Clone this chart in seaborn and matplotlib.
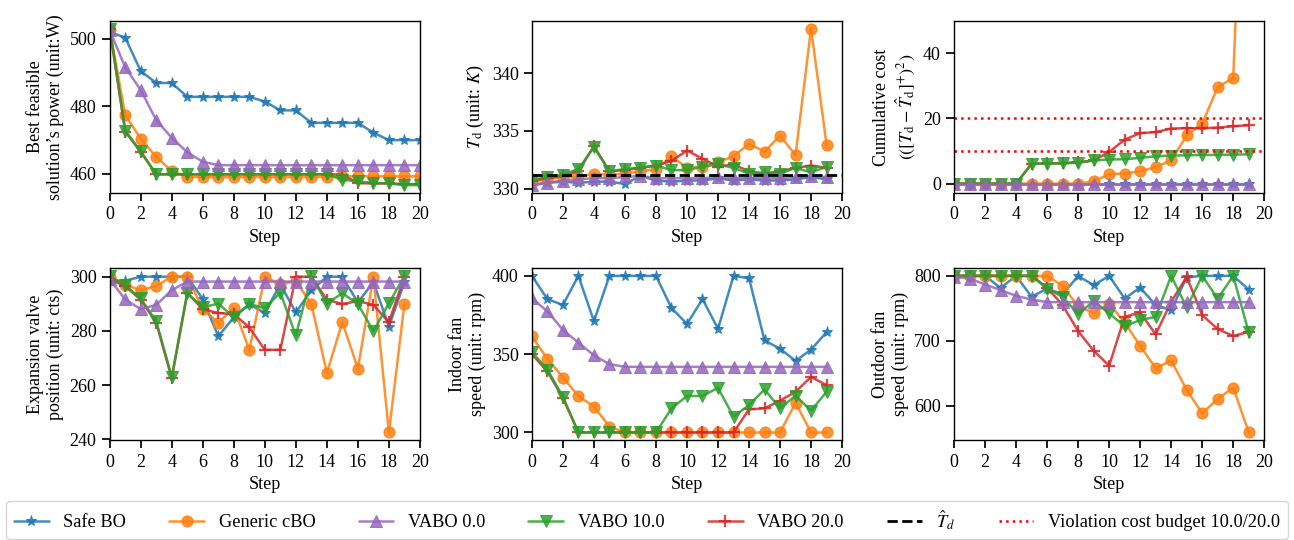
import numpy as np
import pandas as pd
import matplotlib
matplotlib.use("Agg")
import matplotlib.pyplot as plt
import seaborn as sns

# ---------------- data ----------------
methods = ["Safe BO", "Generic cBO", "VABO 0.0", "VABO 10.0", "VABO 20.0"]
colors = ["#1f77b4", "#ff7f0e", "#9467bd", "#2ca02c", "#d62728"]
markers = ["*", "o", "^", "v", "+"]
draw_order = [0, 1, 4, 3, 2]  # drawing order (legend keeps the method order)

steps21 = list(range(21))
steps20 = list(range(20))

# best feasible power (21 points)
power_safe = [502.0, 500.3, 490.4, 486.9, 486.9, 482.8, 482.8, 482.8, 482.8, 482.8, 481.4,
              478.8, 478.8, 475.1, 475.1, 475.1, 475.1, 472.2, 470.0, 470.0, 470.0]
power_generic = [502.7, 477.4, 470.4, 465.0, 460.9, 459.1, 459.1, 459.1, 459.1, 459.1, 459.1,
                 459.1, 459.1, 459.1, 459.1, 459.3, 459.3, 459.3, 459.3, 459.3, 459.3]
power_vabo0 = [502.5, 491.5, 484.8, 475.9, 470.7, 466.4, 463.6, 462.6, 462.6, 462.6, 462.6,
               462.6, 462.6, 462.6, 462.6, 462.6, 462.6, 462.6, 462.6, 462.6, 462.6]
power_vabo10 = [503.0, 472.8, 466.7, 459.9, 459.9, 459.9, 459.9, 459.9, 459.9, 459.9, 459.9,
                459.9, 459.9, 459.9, 459.9, 458.3, 457.8, 457.3, 457.2, 456.7, 456.7]
power_vabo20 = [503.0, 472.5, 466.5, 459.9, 459.9, 459.9, 459.9, 459.9, 459.9, 459.9, 459.9,
                459.9, 459.9, 459.9, 459.9, 459.8, 457.3, 457.2, 457.2, 457.0, 457.0]

# T_d (20 points)
td_safe = [330.3, 330.5, 330.6, 330.5, 330.6, 330.6, 330.4, 331.1, 330.7, 330.6,
           330.7, 330.7, 330.9, 330.7, 330.8, 330.7, 330.7, 330.8, 331.0, 330.8]
td_generic = [330.6, 330.8, 331.0, 331.0, 331.3, 331.2, 331.3, 331.5, 331.7, 332.8,
              331.8, 331.9, 332.3, 332.8, 333.9, 333.2, 334.6, 332.9, 343.9, 333.8]
td_vabo0 = [330.3, 330.5, 330.7, 330.8, 330.9, 330.9, 331.0, 331.1, 330.9, 330.9,
            330.9, 330.9, 331.0, 330.9, 330.9, 330.9, 330.9, 331.0, 331.1, 331.0]
td_vabo10 = [330.75, 331.0, 331.2, 331.7, 333.6, 331.5, 331.7, 331.8, 332.0, 331.6,
             331.6, 331.9, 332.1, 331.8, 331.3, 331.4, 331.3, 331.8, 331.4, 331.9]
td_vabo20 = [330.7, 330.9, 331.1, 331.5, 333.7, 331.5, 331.6, 331.8, 332.0, 332.4,
             333.3, 332.6, 331.9, 332.1, 331.5, 331.3, 331.5, 331.8, 332.0, 331.8]
td_hat = 331.15

# cumulative cost (20 points)
cost_safe = [0.0] * 20
cost_generic = [0.0, 0.0, 0.0, 0.0, 0.0, 0.0, 0.0, 0.0, 0.0, 0.7,
                2.9, 3.1, 3.8, 5.1, 7.1, 14.8, 18.4, 29.6, 32.4, 150.0]
cost_vabo0 = [0.0] * 20
cost_vabo10 = [0.0, 0.0, 0.0, 0.0, 0.0, 6.1, 6.1, 6.2, 6.4, 7.1,
               7.4, 7.5, 7.9, 8.4, 8.6, 8.7, 8.8, 8.8, 8.9, 9.0]
cost_vabo20 = [0.0, 0.0, 0.0, 0.0, 0.0, 6.1, 6.2, 6.3, 6.6, 7.1,
               9.7, 13.5, 15.5, 15.8, 16.9, 17.0, 17.0, 17.2, 17.6, 17.9]
budgets = [10.0, 20.0]

# expansion valve position (20 points)
ev_safe = [298.4, 298.5, 300, 300, 300, 300, 291.7, 278.0, 285.0, 289.9,
           286.6, 297.2, 286.8, 295.0, 300, 300, 290.5, 298.0, 281.6, 298.0]
ev_generic = [300, 297.0, 295.0, 296.6, 300, 300, 288.0, 283.0, 288.4, 273.0,
              300, 297.2, 298.4, 289.9, 264.5, 283.2, 266.1, 300, 242.5, 289.9]
ev_vabo0 = [299.0, 291.6, 288.0, 289.6, 295.0, 298.2, 298.2, 298.2, 298.2, 298.2,
            298.2, 298.2, 298.2, 298.2, 298.2, 298.2, 298.2, 298.2, 298.2, 298.2]
ev_vabo10 = [300.3, 296.8, 292.0, 283.5, 263.0, 293.9, 288.7, 290.1, 285.0, 289.9,
             288.4, 294.1, 278.3, 300.3, 290.1, 293.9, 289.9, 279.9, 290.2, 300.3]
ev_vabo20 = [299.0, 296.5, 291.5, 283.0, 262.5, 294.0, 288.0, 286.6, 286.2, 281.3,
             273.0, 273.0, 300, 300, 291.5, 289.9, 291.0, 289.6, 283.2, 300]

# indoor fan speed (20 points)
in_safe = [400, 385.2, 381.4, 400, 371.0, 400, 400, 400, 400, 379.5,
           369.3, 385.2, 366.2, 400, 398.5, 358.8, 353.5, 345.7, 352.9, 364.1]
in_generic = [361.3, 347.1, 335.1, 323.3, 316.5, 303.8, 300, 300, 300, 300,
              300, 300, 300, 300, 300, 300, 300, 319.0, 300, 300]
in_vabo0 = [385.6, 377.4, 365.5, 357.3, 349.3, 343.6, 341.9, 341.9, 341.9, 341.9,
            341.9, 341.9, 341.9, 341.9, 341.9, 341.9, 341.9, 341.9, 341.9, 341.9]
in_vabo10 = [351.4, 340.2, 322.8, 300, 300, 300, 300, 300, 300, 315.4,
             323.3, 323.3, 328.5, 310.1, 317.5, 327.5, 315.4, 323.5, 314.0, 326.0]
in_vabo20 = [350.0, 339.0, 322.0, 300, 300, 300, 300, 300, 300, 300,
             300, 300, 300, 300, 314.8, 315.4, 320.3, 326.0, 335.5, 330.2]

# outdoor fan speed (20 points)
out_safe = [800, 800, 800, 781.5, 800, 767.7, 780.5, 771.3, 800, 785.6,
            800, 765.1, 782.0, 754.9, 747.2, 798.0, 800, 800, 800, 779.0]
out_generic = [800, 800, 800, 800, 800, 800, 800, 784.6, 753.0, 743.0,
               757.4, 728.0, 692.3, 657.4, 669.7, 624.1, 588.2, 610.3, 627.7, 558.5]
out_vabo0 = [798.5, 795.9, 786.7, 778.0, 769.2, 763.6, 759.5, 759.5, 759.5, 759.5,
             759.5, 759.5, 759.5, 759.5, 759.5, 759.5, 759.5, 759.5, 759.5, 759.5]
out_vabo10 = [800, 800, 800, 800, 800, 800, 780.5, 767.7, 740.5, 761.5,
              742.0, 722.6, 731.8, 736.9, 800, 751.3, 800, 765.0, 800, 712.8]
out_vabo20 = [800, 800, 800, 800, 800, 800, 782.0, 754.9, 714.9, 684.6,
              661.5, 736.9, 743.6, 709.7, 760.0, 798.5, 739.5, 718.0, 707.2, 713.8]

panels = [
    (steps21, [power_safe, power_generic, power_vabo0, power_vabo10, power_vabo20],
     "Best feasible\nsolution\u2019s power (unit:W)"),
    (steps20, [td_safe, td_generic, td_vabo0, td_vabo10, td_vabo20],
     r"$T_\mathrm{d}$ (unit: $K$)"),
    (steps20, [cost_safe, cost_generic, cost_vabo0, cost_vabo10, cost_vabo20],
     "Cumulative cost\n" + r"$(([T_\mathrm{d}-\hat{T}_\mathrm{d}]^{+})^2)$"),
    (steps20, [ev_safe, ev_generic, ev_vabo0, ev_vabo10, ev_vabo20],
     "Expansion valve\nposition (unit: cts)"),
    (steps20, [in_safe, in_generic, in_vabo0, in_vabo10, in_vabo20],
     "Indoor fan\nspeed (unit: rpm)"),
    (steps20, [out_safe, out_generic, out_vabo0, out_vabo10, out_vabo20],
     "Outdoor fan\nspeed (unit: rpm)"),
]

# ---------------- style ----------------
sns.set_theme(style="ticks")
plt.rcParams["font.family"] = ["Liberation Serif", "DejaVu Serif"]
plt.rcParams["mathtext.fontset"] = "stix"
plt.rcParams["font.size"] = 13
plt.rcParams["axes.labelsize"] = 13
plt.rcParams["xtick.labelsize"] = 13
plt.rcParams["ytick.labelsize"] = 13
plt.rcParams["axes.edgecolor"] = "black"
plt.rcParams["xtick.color"] = "black"
plt.rcParams["ytick.color"] = "black"
plt.rcParams["axes.labelcolor"] = "black"
plt.rcParams["text.color"] = "black"

fig, axes = plt.subplots(2, 3, figsize=(12.94, 5.40), dpi=100)
fig.subplots_adjust(left=0.0848, right=0.977, top=0.9617, bottom=0.1846,
                    wspace=0.361, hspace=0.436)

legend_handles = {}
for ax, (xs, series, ylabel) in zip(axes.flat, panels):
    for i in draw_order:
        name, col, mk, vals = methods[i], colors[i], markers[i], series[i]
        df = pd.DataFrame({"Step": xs, "value": vals})
        mew = 1.6 if mk == "+" else 0.75
        ms = 8
        sns.lineplot(data=df, x="Step", y="value", ax=ax, color=col, marker=mk,
                     markersize=ms, markeredgecolor=col, markeredgewidth=mew,
                     linewidth=1.8, alpha=0.85, label=name)
        if name not in legend_handles:
            legend_handles[name] = ax.get_lines()[-1]
    ax.set_xlim(0, 20)
    ax.set_xticks(range(0, 21, 2))
    ax.set_xlabel("Step")
    ax.set_ylabel(ylabel)
    for s in ax.spines.values():
        s.set_linewidth(1.0)
        s.set_color("black")
    leg = ax.get_legend()
    if leg is not None:
        leg.remove()

ax_td = axes[0, 1]
that_line = ax_td.axhline(td_hat, color="black", linestyle="--", linewidth=2.0,
                          label=r"$\hat{T}_d$")
ax_cost = axes[0, 2]
bud_lines = []
for b in budgets:
    bud_lines.append(ax_cost.axhline(b, color="red", linestyle=":", linewidth=1.8,
                                     label="Violation cost budget 10.0/20.0"))
ax_cost.set_ylim(-2.86, 50)

handles = [legend_handles[m] for m in methods] + [that_line, bud_lines[0]]
labels = methods + [r"$\hat{T}_d$", "Violation cost budget 10.0/20.0"]
fig.legend(handles, labels, loc="lower center", ncol=7, bbox_to_anchor=(0.5, -0.015),
           frameon=True, fontsize=13.2, handlelength=1.9, columnspacing=2.35,
           fancybox=True, edgecolor="#cccccc")

fig.savefig("out.png", dpi=100)
